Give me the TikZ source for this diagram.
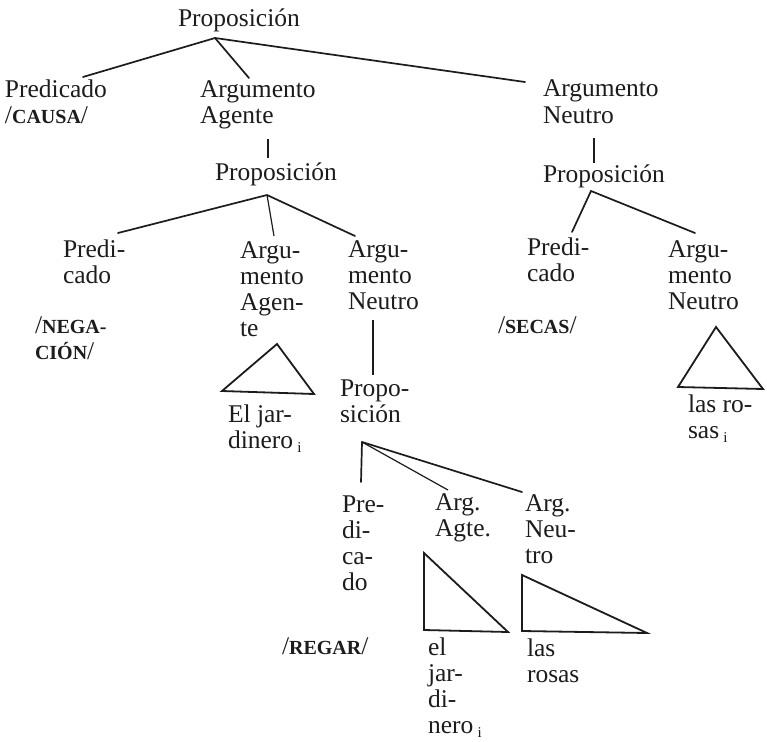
\documentclass[tikz,border=0pt]{standalone}
\usepackage{fontspec}
\setmainfont{Liberation Serif}
\definecolor{ink}{HTML}{1C1C1C}
\newcommand\mysubi{\,{\fontsize{15}{15}\selectfont\raisebox{-4pt}{i}}}
\newcommand\mysc[1]{{\fontsize{20}{26}\selectfont\bfseries #1}}
\tikzset{
  lbl/.style={anchor=base west, inner sep=0pt, outer sep=0pt, align=left,
    font=\fontsize{25.5}{26}\selectfont, text=ink},
  br/.style={line width=1.7pt, draw=ink, line cap=round},
  brthin/.style={line width=1.2pt, draw=ink},
  tick/.style={line width=2.4pt, draw=ink},
  tri/.style={line width=1.8pt, draw=ink, line join=miter}
}
\begin{document}
\begin{tikzpicture}[x=1pt,y=-1pt]
\useasboundingbox[fill=white] (0,0) rectangle (767,741);
% text nodes (positions are at the baseline of the last line)
\node[lbl] (top) at (178,27) {Proposición};
\node[lbl] (predA) at (5,124) {Predicado\\/\mysc{CAUSA}/};
\node[lbl] (agA) at (200,124) {Argumento\\Agente};
\node[lbl] (neA) at (543,123) {Argumento\\Neutro};
\node[lbl] (propL) at (215,180) {Proposición};
\node[lbl] (propR) at (543,182) {Proposición};
\node[lbl] (predB) at (63,283) {Predi-\\cado};
\node[lbl] (neg) at (35,359) {/\mysc{NEGA-}\\\mysc{CIÓN}/};
\node[lbl] (agB) at (240,336) {Argu-\\mento\\Agen-\\te};
\node[lbl] (neB) at (348,309) {Argu-\\mento\\Neutro};
\node[lbl] (predC) at (527,281) {Predi-\\cado};
\node[lbl] (secas) at (498,333) {/\mysc{SECAS}/};
\node[lbl] (neC) at (668,309) {Argu-\\mento\\Neutro};
\node[lbl] (jardA) at (228,448) {El jar-\\dinero\mysubi};
\node[lbl] (propM) at (340,422) {Propo-\\sición};
\node[lbl] (rosA) at (688,438) {las ro-\\sas\mysubi};
\node[lbl] (predD) at (342,590) {Pre-\\di-\\ca-\\do};
\node[lbl] (agD) at (435,536) {Arg.\\Agte.};
\node[lbl] (neD) at (525,563) {Arg.\\Neu-\\tro};
\node[lbl] (regar) at (282,654) {/\mysc{REGAR}/};
\node[lbl] (jardB) at (428,733) {el\\jar-\\di-\\nero\mysubi};
\node[lbl] (rosB) at (527,682) {las\\rosas};
% branch points
\coordinate (a0) at (215,38);
\coordinate (a0p) at (83,77);
\coordinate (a0g) at (249,78);
\coordinate (a0n) at (525,82);
\coordinate (t1a) at (268,139);
\coordinate (t1b) at (268,158);
\coordinate (t2a) at (594,138);
\coordinate (t2b) at (594,163);
\coordinate (a1) at (267,195);
\coordinate (a1p) at (118,233);
\coordinate (a1g) at (274,236);
\coordinate (a1n) at (355,236);
\coordinate (a2) at (591,191);
\coordinate (a2p) at (572,232);
\coordinate (a2n) at (695,233);
\coordinate (v1a) at (373,320);
\coordinate (v1b) at (373,375);
\coordinate (a3) at (362,442);
\coordinate (a3p) at (361,482);
\coordinate (a3g) at (448,490);
\coordinate (a3n) at (522,492);
% connectors
\draw[br] (a0p) -- (a0) -- (a0n);
\draw[br] (a0) -- (a0g);
\draw[tick] (t1a) -- (t1b);
\draw[tick] (t2a) -- (t2b);
\draw[br] (a1p) -- (a1) -- (a1n);
\draw[brthin] (a1) -- (a1g);
\draw[br] (a2p) -- (a2) -- (a2n);
\draw[brthin] (v1a) -- (v1b);
\draw[br] (a3) -- (a3p);
\draw[brthin] (a3) -- (a3g);
\draw[br] (a3) -- (a3n);
% triangles
\draw[tri] (277,344) -- (222,391) -- (314,394) -- cycle;
\draw[tri] (716,327) -- (678,387) -- (763,389) -- cycle;
\draw[tri] (424,553) -- (424,630) -- (508,632) -- cycle;
\draw[tri] (522,575) -- (522,631) -- (647,633) -- cycle;
\end{tikzpicture}
\end{document}
